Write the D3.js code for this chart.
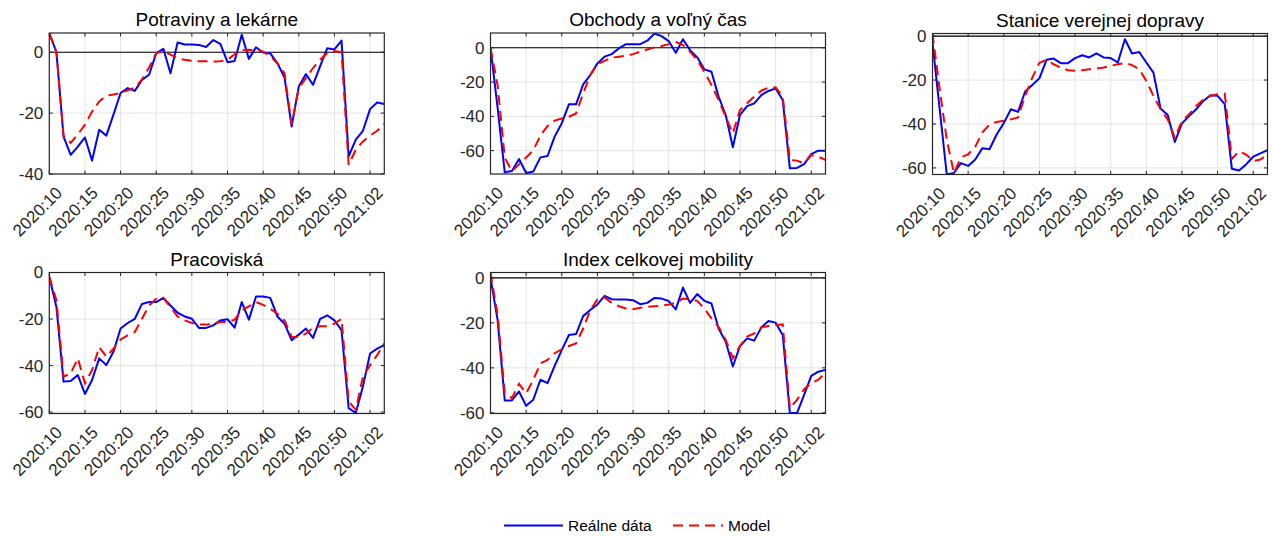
<!DOCTYPE html>
<html>
<head>
<meta charset="utf-8">
<script src="https://cdn.jsdelivr.net/npm/d3@7"></script>
<style>
  body { margin: 0; background: #fff; }
  text { font-family: "Liberation Sans", Arial, sans-serif; }
</style>
</head>
<body>
<div id="chart"></div>
<script>
// weeks (year:week), 2020 has 53 ISO weeks
var weeks = ["2020:10","2020:11","2020:12","2020:13","2020:14","2020:15","2020:16","2020:17","2020:18","2020:19",
  "2020:20","2020:21","2020:22","2020:23","2020:24","2020:25","2020:26","2020:27","2020:28","2020:29",
  "2020:30","2020:31","2020:32","2020:33","2020:34","2020:35","2020:36","2020:37","2020:38","2020:39",
  "2020:40","2020:41","2020:42","2020:43","2020:44","2020:45","2020:46","2020:47","2020:48","2020:49",
  "2020:50","2020:51","2020:52","2020:53","2021:01","2021:02","2021:03","2021:04"]

var titles = ["Potraviny a lekárne", "Obchody a voľný čas", "Stanice verejnej dopravy", "Pracoviská", "Index celkovej mobility"]

// Potraviny a lekárne
var potravinyReal = [6.2, 0, -27.7, -33.7, -31, -28, -35.6, -25.5, -27.4, -20.5,
  -13.4, -11.8, -12.7, -9.1, -7.4, -0.3, 1.1, -6.9, 3.2, 2.5,
  2.5, 2.4, 1.7, 4.0, 2.7, -3.3, -2.9, 5.7, -2.2, 1.6,
  -0.1, -0.4, -3.6, -8.3, -24.4, -11.3, -7.2, -10.7, -4.6, 1.3,
  0.9, 3.8, -34.2, -28.7, -25.8, -18.7, -16.5, -17.0]
var potravinyModel = [6.2, 0, -27.5, -29.8, -27, -23.8, -19.5, -16.2, -14.3, -13.9,
  -13.4, -12.5, -11.7, -9.0, -5.0, -0.3, 0.3, -0.8, -2.0, -2.5,
  -2.8, -3.0, -3.0, -3.1, -3.0, -2.5, -0.7, 0.6, 0.8, 0.7,
  0.2, -1.4, -3.6, -6.9, -23.8, -11.8, -8.5, -5.2, -2.5, -0.3,
  0.4, 0, -37, -32, -29.3, -27.4, -25.8, -23.5]

// Obchody a voľný čas
var obchodyReal = [0, -35, -72.6, -71.8, -64.9, -73, -72.2, -63.9, -63.1, -51.8,
  -44, -33, -33, -21.4, -15.9, -9.1, -5.2, -3.7, -0.4, 2.1,
  2.1, 2.1, 4.1, 8.3, 6.8, 3.9, -2.9, 5.0, -1.4, -5.6,
  -12.6, -14, -28.5, -39.2, -58, -39.2, -34, -32.4, -27.6, -25.2,
  -23.7, -30.5, -70.3, -70.1, -67.8, -62, -60, -60]
var obchodyModel = [0, -22, -64, -72, -68, -64, -59.8, -51.2, -45.6, -42.5,
  -41.2, -40.2, -38.3, -26.6, -15.9, -9.5, -7.6, -5.8, -5.2, -4.7,
  -3.7, -2.3, -1.0, 0.2, 1.0, 2.1, 3.5, 1.6, -2.3, -7.2,
  -14, -21.7, -30.5, -40.2, -49.9, -36.3, -32.4, -28.5, -25, -23.3,
  -23.1, -28.5, -65.4, -65.8, -67.4, -62.6, -63.5, -65.4]

// Stanice verejnej dopravy
var staniceReal = [-3, -33, -63, -62.3, -57.8, -59.1, -56.2, -51, -51.5, -44.8,
  -39.6, -33.3, -34.5, -25.2, -22.2, -19.2, -10.8, -10.2, -12.3, -12.3,
  -10, -8.7, -9.7, -7.8, -9.7, -10, -12, -1.4, -7.9, -7.2,
  -12, -16.6, -33, -35.9, -48.2, -39.7, -36.4, -33.3, -29.5, -26.9,
  -27.2, -31, -60.4, -61.2, -58.4, -54.9, -53.4, -51.9]
var staniceModel = [1.2, -24, -47, -62.3, -55.2, -53.8, -50.3, -43.8, -40.3, -39.1,
  -38.5, -37.9, -37, -27.2, -18.9, -12.1, -10.8, -12.8, -14.3, -15.5,
  -15.8, -15.5, -15.1, -14.8, -14.3, -13.5, -12.8, -12.3, -13.2, -15.1,
  -20.4, -27.2, -33.3, -37.9, -46.3, -38.7, -35.6, -31.8, -28.8, -27.2,
  -26.5, -26.2, -55.9, -52.4, -53.9, -56.9, -56.2, -53.9]

// Pracoviská
var pracoviskaReal = [-1.8, -14.9, -46.9, -46.6, -44.1, -52.2, -46.2, -36.9, -39.8, -34.1,
  -24.1, -21.7, -19.9, -13.5, -12.7, -12.7, -10.9, -14.2, -17.3, -18.9,
  -19.9, -23.8, -23.8, -22.7, -20.6, -20.1, -23.7, -12.7, -20.3, -10.3,
  -10.3, -10.9, -18.9, -22, -29.1, -26.7, -24.1, -28.1, -19.9, -18.4,
  -20.6, -24.8, -58.3, -60.4, -49, -34.8, -32.7, -31.2]
var pracoviskaModel = [-1.8, -12, -44.8, -43.3, -36.9, -47.6, -41.9, -32, -36.2, -32.7,
  -28.8, -27, -25.6, -19.9, -14.2, -11.3, -10.9, -14.9, -18.9, -20.6,
  -21.7, -22.3, -22.4, -22, -21.3, -21.3, -20.3, -16.3, -14.6, -12.7,
  -13.9, -15.6, -17.7, -20.6, -27.7, -27.7, -26.3, -23.7, -23.1, -23.1,
  -22, -19.9, -55.4, -59, -44.8, -39.8, -35.5, -30.5]

// Index celkovej mobility
var indexReal = [0, -18.8, -54.5, -54.5, -50.5, -56.9, -54.2, -45.3, -46.8, -39.1,
  -32.1, -25.4, -25, -17, -14.3, -11.8, -8, -9.5, -9.6, -9.6,
  -9.9, -11.7, -11.1, -8.9, -9.2, -10.3, -14, -4.3, -11.1, -7.2,
  -10.2, -11.4, -22.5, -28.4, -39.4, -30.3, -26.9, -27.9, -22, -19.2,
  -19.9, -25.4, -60.1, -60.1, -52, -43.6, -41.7, -40.9]
var indexModel = [2.4, -16.5, -51.3, -53.5, -47.1, -51.3, -45.3, -38, -36.5, -33.5,
  -31.8, -30.3, -29.1, -22.5, -14.3, -9.6, -8.7, -11.1, -12.6, -13.6,
  -13.9, -13.3, -12.9, -12.6, -12.4, -11.8, -11.1, -9.2, -9.6, -10.2,
  -13.6, -18, -21.7, -27.6, -35.7, -30.3, -26.1, -24.7, -22, -21.4,
  -21, -20.7, -57.9, -54.2, -49.5, -46.8, -45.3, -42.1]

var legendLabels = ["Reálne dáta", "Model"]

var width = 1272, height = 536
var pw = 335, ph = 141
var blue = "#0000ff", red = "#ff0000"
var axisColor = "#262626", gridColor = "#e3e3e3"

var panels = [
  { title: titles[0], real: potravinyReal, model: potravinyModel, left: 49.3, top: 33, ydom: [-40, 6.3], yticks: [-40, -20, 0] },
  { title: titles[1], real: obchodyReal, model: obchodyModel, left: 490.5, top: 33, ydom: [-73.6, 8.6], yticks: [-60, -40, -20, 0] },
  { title: titles[2], real: staniceReal, model: staniceModel, left: 932.5, top: 33.5, ydom: [-63, 1.2], yticks: [-60, -40, -20, 0] },
  { title: titles[3], real: pracoviskaReal, model: pracoviskaModel, left: 49.3, top: 272.5, ydom: [-60.6, 0], yticks: [-60, -40, -20, 0] },
  { title: titles[4], real: indexReal, model: indexModel, left: 490.5, top: 272.5, ydom: [-60.3, 2.4], yticks: [-60, -40, -20, 0] }
]

var tickIdx = d3.range(0, weeks.length, 5)

var svg = d3.select("#chart")
  .append("svg")
    .attr("width", width)
    .attr("height", height)
    .style("background", "#fff")

panels.forEach(function(p, k) {
  var x = d3.scaleLinear().domain([0, weeks.length - 1]).range([0, pw])
  var y = d3.scaleLinear().domain(p.ydom).range([ph, 0])

  var g = svg.append("g").attr("transform", "translate(" + p.left + "," + p.top + ")")

  g.append("clipPath").attr("id", "clip" + k)
    .append("rect").attr("width", pw).attr("height", ph)

  // grid
  g.selectAll(".gx").data(tickIdx).enter().append("line")
    .attr("x1", function(d){ return x(d) }).attr("x2", function(d){ return x(d) })
    .attr("y1", 0).attr("y2", ph)
    .attr("stroke", gridColor).attr("stroke-width", 1)
  g.selectAll(".gy").data(p.yticks).enter().append("line")
    .attr("x1", 0).attr("x2", pw)
    .attr("y1", function(d){ return y(d) }).attr("y2", function(d){ return y(d) })
    .attr("stroke", gridColor).attr("stroke-width", 1)

  // zero line
  g.append("line")
    .attr("x1", 0).attr("x2", pw)
    .attr("y1", y(0)).attr("y2", y(0))
    .attr("stroke", "#000").attr("stroke-width", 1.1)

  // lines
  var line = d3.line()
    .x(function(d, i){ return x(i) })
    .y(function(d){ return y(d) })

  g.append("path").datum(p.real)
    .attr("d", line)
    .attr("clip-path", "url(#clip" + k + ")")
    .attr("fill", "none").attr("stroke", blue).attr("stroke-width", 2)
    .attr("stroke-linejoin", "round")
  g.append("path").datum(p.model)
    .attr("d", line)
    .attr("clip-path", "url(#clip" + k + ")")
    .attr("fill", "none").attr("stroke", red).attr("stroke-width", 2)
    .style("stroke-dasharray", "10,6")

  // box
  g.append("rect")
    .attr("width", pw).attr("height", ph)
    .attr("fill", "none").attr("stroke", axisColor).attr("stroke-width", 1.2)

  // ticks (inside, on all four sides)
  var tl = 3.5
  tickIdx.forEach(function(d) {
    g.append("line").attr("x1", x(d)).attr("x2", x(d)).attr("y1", ph).attr("y2", ph - tl)
      .attr("stroke", axisColor)
    g.append("line").attr("x1", x(d)).attr("x2", x(d)).attr("y1", 0).attr("y2", tl)
      .attr("stroke", axisColor)
  })
  p.yticks.forEach(function(d) {
    g.append("line").attr("x1", 0).attr("x2", tl).attr("y1", y(d)).attr("y2", y(d))
      .attr("stroke", axisColor)
    g.append("line").attr("x1", pw).attr("x2", pw - tl).attr("y1", y(d)).attr("y2", y(d))
      .attr("stroke", axisColor)
  })

  // tick labels
  g.selectAll(".xl").data(tickIdx).enter().append("text")
    .attr("transform", function(d){ return "translate(" + (x(d) + 14) + "," + (ph + 20) + ") rotate(-45)" })
    .attr("text-anchor", "end")
    .style("font-size", "17px")
    .attr("fill", axisColor)
    .text(function(d){ return weeks[d] })
  g.selectAll(".yl").data(p.yticks).enter().append("text")
    .attr("x", -6)
    .attr("y", function(d){ return y(d) })
    .attr("dy", "0.35em")
    .attr("text-anchor", "end")
    .style("font-size", "17px")
    .attr("fill", axisColor)
    .text(function(d){ return d })

  // title
  g.append("text")
    .attr("x", pw / 2)
    .attr("y", -7)
    .attr("text-anchor", "middle")
    .style("font-size", "19px")
    .attr("fill", "#000")
    .text(p.title)
})

// legend
var lg = svg.append("g")
lg.append("line").attr("x1", 504).attr("x2", 563).attr("y1", 525.5).attr("y2", 525.5)
  .attr("stroke", blue).attr("stroke-width", 2)
lg.append("text").attr("x", 568).attr("y", 531).style("font-size", "15.5px").attr("fill", "#000")
  .text(legendLabels[0])
lg.append("line").attr("x1", 673).attr("x2", 723).attr("y1", 525.5).attr("y2", 525.5)
  .attr("stroke", red).attr("stroke-width", 2)
  .style("stroke-dasharray", "10,6")
lg.append("text").attr("x", 728).attr("y", 531).style("font-size", "15.5px").attr("fill", "#000")
  .text(legendLabels[1])
</script>
</body>
</html>
